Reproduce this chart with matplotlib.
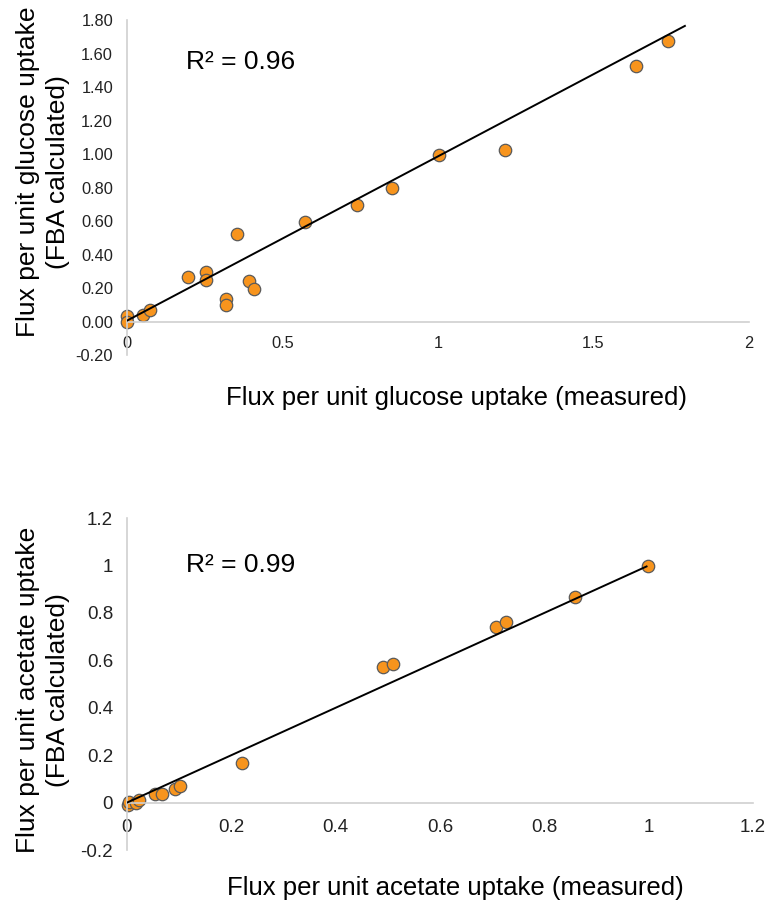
import matplotlib
matplotlib.use("Agg")
import matplotlib.pyplot as plt
import numpy as np

plt.rcParams['font.family'] = ['Liberation Sans', 'DejaVu Sans']

# Glucose panel data
glc_measured = [0.0, 0.0, 0.05, 0.074, 0.197, 0.253, 0.253, 0.317, 0.317, 0.355,
                0.392, 0.407, 0.572, 0.740, 0.853, 1.004, 1.215, 1.638, 1.739]
glc_fba = [0.035, 0.0, 0.038, 0.066, 0.265, 0.293, 0.250, 0.136, 0.100, 0.520,
           0.240, 0.193, 0.595, 0.696, 0.800, 0.995, 1.024, 1.527, 1.672]
glc_trend_slope = 0.981
glc_trend_intercept = 0.005
glc_trend_range = [0.0, 1.794]
glc_r2 = "R² = 0.96"

# Acetate panel data
ace_measured = [0.0025, 0.0045, 0.017, 0.023, 0.053, 0.068, 0.0925, 0.1015, 0.220,
                0.490, 0.510, 0.708, 0.727, 0.859, 0.999]
ace_fba = [-0.01, 0.001, 0.0, 0.010, 0.038, 0.038, 0.059, 0.069, 0.165,
           0.570, 0.586, 0.741, 0.761, 0.869, 0.997]
ace_trend_slope = 1.0
ace_trend_intercept = 0.0
ace_trend_range = [0.0, 0.996]
ace_r2 = "R² = 0.99"

glc_xticks = [0, 0.5, 1, 1.5, 2]
glc_xticklabels = ["0", "0.5", "1", "1.5", "2"]
glc_yticks = [-0.2, 0.0, 0.2, 0.4, 0.6, 0.8, 1.0, 1.2, 1.4, 1.6, 1.8]
glc_yticklabels = ["-0.20", "0.00", "0.20", "0.40", "0.60", "0.80", "1.00", "1.20", "1.40", "1.60", "1.80"]

ace_xticks = [0, 0.2, 0.4, 0.6, 0.8, 1.0, 1.2]
ace_xticklabels = ["0", "0.2", "0.4", "0.6", "0.8", "1", "1.2"]
ace_yticks = [-0.2, 0, 0.2, 0.4, 0.6, 0.8, 1.0, 1.2]
ace_yticklabels = ["-0.2", "0", "0.2", "0.4", "0.6", "0.8", "1", "1.2"]

fig = plt.figure(figsize=(7.71, 9.07), dpi=100)

ax1 = fig.add_axes([0.1647, 0.6086, 0.8067, 0.3693])
ax2 = fig.add_axes([0.1647, 0.0628, 0.8119, 0.366])

MARKER = '#F7941D'
EDGE = '#5a5a5a'
AXCOL = '#d0d0d0'


def style(ax, xlim, ylim, xticks, xtl, yticks, ytl, lsize, xpad, ypad):
    ax.set_xlim(*xlim)
    ax.set_ylim(*ylim)
    for s in ['top', 'right']:
        ax.spines[s].set_visible(False)
    ax.spines['bottom'].set_position(('data', 0))
    ax.spines['left'].set_position(('data', 0))
    ax.spines['bottom'].set_color(AXCOL)
    ax.spines['left'].set_color(AXCOL)
    ax.spines['bottom'].set_linewidth(1.2)
    ax.spines['left'].set_linewidth(1.2)
    ax.set_xticks(xticks)
    ax.set_xticklabels(xtl)
    ax.set_yticks(yticks)
    ax.set_yticklabels(ytl)
    ax.tick_params(axis='both', length=0, labelsize=lsize, colors='#222222')
    ax.tick_params(axis='x', pad=xpad)
    ax.tick_params(axis='y', pad=ypad)


style(ax1, (0, 2), (-0.2, 1.8), glc_xticks, glc_xticklabels, glc_yticks, glc_yticklabels, 11.8, 10.5, 10)
style(ax2, (0, 1.2), (-0.2, 1.2), ace_xticks, ace_xticklabels, ace_yticks, ace_yticklabels, 13.5, 12, 10)

# Glucose
xs = np.array(glc_trend_range)
ax1.plot(xs, glc_trend_slope * xs + glc_trend_intercept, color='black', lw=1.4, zorder=3)
ax1.scatter(glc_measured, glc_fba, s=80, c=MARKER, edgecolors=EDGE, linewidths=0.9, zorder=2, clip_on=False)
ax1.text(0.095, 0.875, glc_r2, transform=ax1.transAxes, fontsize=19, va='center', ha='left')

# Acetate
xs = np.array(ace_trend_range)
ax2.plot(xs, ace_trend_slope * xs + ace_trend_intercept, color='black', lw=1.4, zorder=3)
ax2.scatter(ace_measured, ace_fba, s=80, c=MARKER, edgecolors=EDGE, linewidths=0.9, zorder=2, clip_on=False)
ax2.text(0.094, 0.858, ace_r2, transform=ax2.transAxes, fontsize=19, va='center', ha='left')

# Axis labels
fig.text(457 / 771, 1 - 398 / 907, "Flux per unit glucose uptake (measured)", fontsize=18.5, ha='center', va='center')
fig.text(455 / 771, 1 - 888 / 907, "Flux per unit acetate uptake (measured)", fontsize=18.5, ha='center', va='center')
fig.text(43 / 771, 1 - 172 / 907, "Flux per unit glucose uptake\n(FBA calculated)", fontsize=19,
         ha='center', va='center', rotation=90, linespacing=1.3)
fig.text(43 / 771, 1 - 690 / 907, "Flux per unit acetate uptake\n(FBA calculated)", fontsize=19,
         ha='center', va='center', rotation=90, linespacing=1.3)

fig.savefig("out.png", dpi=100)
